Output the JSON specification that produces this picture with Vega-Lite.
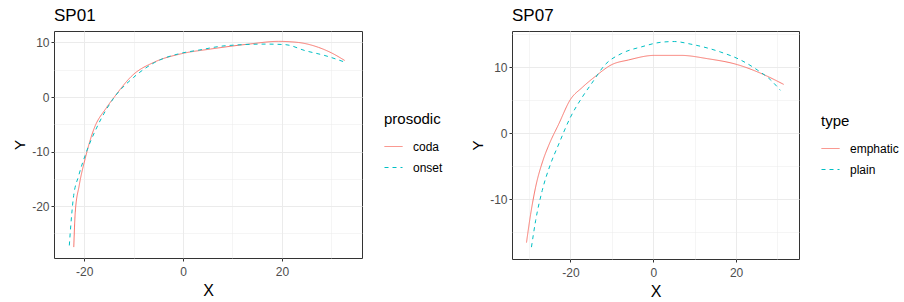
{
  "$schema": "https://vega.github.io/schema/vega-lite/v6.json",
  "background": "white",
  "padding": {"left": 12, "top": 6, "right": 0, "bottom": 0},
  "config": {
    "font": "Liberation Sans",
    "view": {"stroke": "#333333", "strokeWidth": 1},
    "axis": {"domain": false, "tickColor": "#333333", "tickSize": 3, "labelColor": "#4D4D4D", "labelFontSize": 12, "titleFontSize": 15, "titleFontWeight": "normal", "titleColor": "black", "gridColor": "#EBEBEB", "labelPadding": 2},
    "axisX": {"labelPadding": 5, "titlePadding": 5, "titleFontSize": 16},
    "legend": {"orient": "none", "titleFontSize": 15, "titleFontWeight": "normal", "titleColor": "black", "labelFontSize": 12, "labelColor": "black", "symbolType": "stroke", "symbolSize": 324, "symbolStrokeWidth": 1, "rowPadding": 5, "titlePadding": 10, "labelOffset": 10, "padding": 0},
    "title": {"fontSize": 17, "fontWeight": "normal", "anchor": "start", "frame": "group", "color": "black", "offset": 6}
  },
  "spacing": 26,
  "resolve": {"scale": {"color": "independent", "strokeDash": "independent", "x": "independent", "y": "independent"}, "legend": {"color": "independent", "strokeDash": "independent"}},
  "hconcat": [
    {
      "title": "SP01",
      "width": 308,
      "height": 227,
      "data": {"values": [
        {"prosodic": "coda", "X": -22.1, "Y": -27.5},
        {"prosodic": "coda", "X": -21.8, "Y": -21.1},
        {"prosodic": "coda", "X": -21.0, "Y": -16.2},
        {"prosodic": "coda", "X": -19.8, "Y": -11.3},
        {"prosodic": "coda", "X": -18.0, "Y": -5.8},
        {"prosodic": "coda", "X": -15.6, "Y": -2.1},
        {"prosodic": "coda", "X": -13.9, "Y": 0.0},
        {"prosodic": "coda", "X": -10.2, "Y": 4.0},
        {"prosodic": "coda", "X": -5.8, "Y": 6.4},
        {"prosodic": "coda", "X": -0.5, "Y": 7.9},
        {"prosodic": "coda", "X": 5.6, "Y": 8.8},
        {"prosodic": "coda", "X": 13.3, "Y": 9.7},
        {"prosodic": "coda", "X": 19.3, "Y": 10.2},
        {"prosodic": "coda", "X": 23.3, "Y": 10.0},
        {"prosodic": "coda", "X": 27.4, "Y": 9.1},
        {"prosodic": "coda", "X": 30.0, "Y": 8.1},
        {"prosodic": "coda", "X": 32.7, "Y": 6.7},
        {"prosodic": "onset", "X": -23.0, "Y": -27.2},
        {"prosodic": "onset", "X": -22.7, "Y": -23.5},
        {"prosodic": "onset", "X": -22.2, "Y": -18.6},
        {"prosodic": "onset", "X": -21.1, "Y": -14.4},
        {"prosodic": "onset", "X": -19.8, "Y": -10.7},
        {"prosodic": "onset", "X": -17.4, "Y": -5.5},
        {"prosodic": "onset", "X": -14.1, "Y": -0.3},
        {"prosodic": "onset", "X": -10.0, "Y": 3.6},
        {"prosodic": "onset", "X": -5.8, "Y": 6.3},
        {"prosodic": "onset", "X": -0.5, "Y": 8.0},
        {"prosodic": "onset", "X": 3.2, "Y": 8.6},
        {"prosodic": "onset", "X": 8.6, "Y": 9.4},
        {"prosodic": "onset", "X": 16.6, "Y": 9.7},
        {"prosodic": "onset", "X": 20.7, "Y": 9.6},
        {"prosodic": "onset", "X": 24.7, "Y": 8.5},
        {"prosodic": "onset", "X": 28.7, "Y": 7.6},
        {"prosodic": "onset", "X": 32.4, "Y": 6.5}
      ]},
      "mark": {"type": "line", "strokeWidth": 1, "interpolate": "monotone"},
      "encoding": {
        "x": {"field": "X", "type": "quantitative", "scale": {"domain": [-26.1, 36.2], "nice": false, "zero": false},
          "axis": {"values": [-20, -10, 0, 10, 20, 30], "labelExpr": "datum.value % 20 == 0 ? '' + datum.value : ''",
            "tickOpacity": {"condition": {"test": "datum.value % 20 != 0", "value": 0}, "value": 1},
            "gridWidth": {"condition": {"test": "datum.value % 20 != 0", "value": 0.5}, "value": 1}}},
        "y": {"field": "Y", "type": "quantitative", "scale": {"domain": [-29.5, 12.1], "nice": false, "zero": false},
          "axis": {"values": [-25, -20, -15, -10, -5, 0, 5, 10], "labelExpr": "datum.value % 10 == 0 ? '' + datum.value : ''",
            "tickOpacity": {"condition": {"test": "datum.value % 10 != 0", "value": 0}, "value": 1},
            "gridWidth": {"condition": {"test": "datum.value % 10 != 0", "value": 0.5}, "value": 1}}},
        "color": {"field": "prosodic", "type": "nominal", "scale": {"range": ["#F8766D", "#00BFC4"]}, "legend": {"legendX": 330, "legendY": 81}},
        "strokeDash": {"field": "prosodic", "type": "nominal", "scale": {"range": [[1, 0], [4, 4]]}, "legend": {"legendX": 330, "legendY": 81}}
      }
    },
    {
      "title": "SP07",
      "width": 287,
      "height": 228,
      "data": {"values": [
        {"type": "emphatic", "X": -30.6, "Y": -16.6},
        {"type": "emphatic", "X": -29.6, "Y": -12.3},
        {"type": "emphatic", "X": -28.4, "Y": -8.2},
        {"type": "emphatic", "X": -26.6, "Y": -4.1},
        {"type": "emphatic", "X": -25.2, "Y": -1.8},
        {"type": "emphatic", "X": -22.8, "Y": 1.4},
        {"type": "emphatic", "X": -20.0, "Y": 5.1},
        {"type": "emphatic", "X": -17.2, "Y": 6.9},
        {"type": "emphatic", "X": -14.0, "Y": 8.6},
        {"type": "emphatic", "X": -10.0, "Y": 10.4},
        {"type": "emphatic", "X": -6.0, "Y": 11.1},
        {"type": "emphatic", "X": 0.3, "Y": 11.8},
        {"type": "emphatic", "X": 6.7, "Y": 11.8},
        {"type": "emphatic", "X": 13.1, "Y": 11.3},
        {"type": "emphatic", "X": 20.3, "Y": 10.4},
        {"type": "emphatic", "X": 25.9, "Y": 9.1},
        {"type": "emphatic", "X": 31.5, "Y": 7.4},
        {"type": "plain", "X": -29.4, "Y": -17.3},
        {"type": "plain", "X": -28.4, "Y": -13.3},
        {"type": "plain", "X": -26.8, "Y": -8.7},
        {"type": "plain", "X": -24.8, "Y": -4.7},
        {"type": "plain", "X": -22.9, "Y": -1.8},
        {"type": "plain", "X": -20.0, "Y": 2.4},
        {"type": "plain", "X": -17.2, "Y": 5.4},
        {"type": "plain", "X": -14.8, "Y": 7.6},
        {"type": "plain", "X": -11.6, "Y": 10.4},
        {"type": "plain", "X": -7.6, "Y": 12.1},
        {"type": "plain", "X": -2.8, "Y": 13.1},
        {"type": "plain", "X": 2.0, "Y": 13.8},
        {"type": "plain", "X": 5.1, "Y": 13.9},
        {"type": "plain", "X": 9.1, "Y": 13.5},
        {"type": "plain", "X": 16.3, "Y": 12.3},
        {"type": "plain", "X": 21.1, "Y": 11.1},
        {"type": "plain", "X": 25.1, "Y": 9.6},
        {"type": "plain", "X": 28.3, "Y": 8.1},
        {"type": "plain", "X": 30.7, "Y": 6.5}
      ]},
      "mark": {"type": "line", "strokeWidth": 1, "interpolate": "monotone"},
      "encoding": {
        "x": {"field": "X", "type": "quantitative", "scale": {"domain": [-34.1, 35.2], "nice": false, "zero": false},
          "axis": {"values": [-30, -20, -10, 0, 10, 20, 30], "labelExpr": "datum.value % 20 == 0 ? '' + datum.value : ''",
            "tickOpacity": {"condition": {"test": "datum.value % 20 != 0", "value": 0}, "value": 1},
            "gridWidth": {"condition": {"test": "datum.value % 20 != 0", "value": 0.5}, "value": 1}}},
        "y": {"field": "Y", "type": "quantitative", "scale": {"domain": [-19.1, 15.5], "nice": false, "zero": false},
          "axis": {"values": [-15, -10, -5, 0, 5, 10, 15], "labelExpr": "datum.value % 10 == 0 ? '' + datum.value : ''",
            "tickOpacity": {"condition": {"test": "datum.value % 10 != 0", "value": 0}, "value": 1},
            "gridWidth": {"condition": {"test": "datum.value % 10 != 0", "value": 0.5}, "value": 1}}},
        "color": {"field": "type", "type": "nominal", "scale": {"range": ["#F8766D", "#00BFC4"]}, "legend": {"legendX": 309, "legendY": 83}},
        "strokeDash": {"field": "type", "type": "nominal", "scale": {"range": [[1, 0], [4, 4]]}, "legend": {"legendX": 309, "legendY": 83}}
      }
    }
  ]
}
